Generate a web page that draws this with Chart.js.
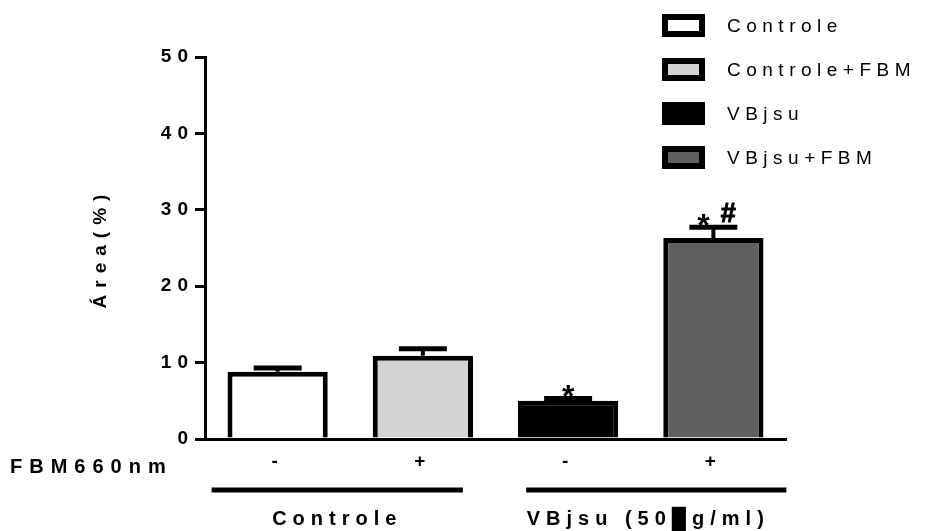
<!DOCTYPE html>
<html>
<head>
<meta charset="utf-8">
<script src="https://cdn.jsdelivr.net/npm/chart.js@4.4.1/dist/chart.umd.min.js"></script>
<style>
  html, body { margin: 0; padding: 0; background: #fff; }
  canvas { display: block; }
</style>
</head>
<body>
<canvas id="grafico" width="925" height="531"></canvas>
<script>
// dados
const categorias = ['Controle', 'Controle+FBM', 'VBjsu', 'VBjsu+FBM'];
const medias = [8.8, 10.9, 5.0, 26.3];
const erros = [0.5, 0.9, 0.3, 1.4];
const sinaisFBM = ['-', '+', '-', '+'];
const asteriscos = ['', '', '*', '*'];
const cerquilhas = ['', '', '', '#'];
const grupos = ['Controle', 'VBjsu (50\u2588g/ml)'];
const gruposInicio = [0, 2];
const gruposFim = [1, 3];
const cores = ['#ffffff', '#d3d3d3', '#000000', '#606060'];

const FONTE = '"Liberation Sans", Arial, sans-serif';

const espacamento = {
    id: 'espacamento',
    beforeDraw(chart) {
        chart.ctx.letterSpacing = '6px';
    }
};

const barrasErro = {
    id: 'barrasErro',
    afterDatasetsDraw(chart) {
        const ctx = chart.ctx;
        const y = chart.scales.y;
        const meta = chart.getDatasetMeta(0);
        ctx.save();
        ctx.strokeStyle = '#000';
        ctx.fillStyle = '#000';
        meta.data.forEach((bar, i) => {
            const base = y.getPixelForValue(medias[i]);
            const topo = y.getPixelForValue(medias[i] + erros[i]);
            ctx.lineWidth = 4;
            ctx.beginPath();
            ctx.moveTo(bar.x, base);
            ctx.lineTo(bar.x, topo);
            ctx.stroke();
            ctx.lineWidth = 5;
            ctx.beginPath();
            ctx.moveTo(bar.x - 24, topo);
            ctx.lineTo(bar.x + 24, topo);
            ctx.stroke();

            ctx.letterSpacing = '0px';
            ctx.textAlign = 'center';
            ctx.textBaseline = 'alphabetic';
            if (asteriscos[i]) {
                const dx = cerquilhas[i] ? -10 : 0;
                ctx.font = 'bold 32px ' + FONTE;
                ctx.fillText(asteriscos[i], bar.x + dx, topo - 2 + 32 * 0.33);
            }
            if (cerquilhas[i]) {
                ctx.font = 'bold 27px ' + FONTE;
                ctx.lineWidth = 1;
                ctx.fillText(cerquilhas[i], bar.x + 15, topo - 5);
                ctx.strokeText(cerquilhas[i], bar.x + 15, topo - 5);
            }
        });
        ctx.restore();
    }
};

const anotacoes = {
    id: 'anotacoes',
    afterDraw(chart) {
        const ctx = chart.ctx;
        const x = chart.scales.x;
        ctx.save();
        ctx.fillStyle = '#000';
        ctx.strokeStyle = '#000';

        // legenda
        ctx.font = '19px ' + FONTE;
        ctx.letterSpacing = '5.5px';
        ctx.textAlign = 'left';
        ctx.textBaseline = 'middle';
        categorias.forEach((nome, i) => {
            const yc = 26 + i * 44;
            ctx.fillStyle = '#000';
            ctx.fillRect(662, yc - 12, 43, 23);
            ctx.fillStyle = cores[i];
            ctx.fillRect(668, yc - 6, 31, 11);
            ctx.fillStyle = '#000';
            ctx.fillText(nome, 727, yc + 1);
        });

        // titulo do eixo y
        ctx.save();
        ctx.translate(101, 251);
        ctx.rotate(-Math.PI / 2);
        ctx.font = 'bold 19px ' + FONTE;
        ctx.letterSpacing = '7px';
        ctx.textAlign = 'center';
        ctx.fillText('\u00c1rea(%)', 3, 0);
        ctx.restore();

        // FBM 660nm
        ctx.font = 'bold 20px ' + FONTE;
        ctx.letterSpacing = '7px';
        ctx.textAlign = 'left';
        ctx.fillText('FBM660nm', 10, 467);

        // grupos
        const desloc = [[-66, 40], [-42, 73]];
        const ajusteTexto = [0, -8];
        ctx.font = 'bold 20px ' + FONTE;
        ctx.letterSpacing = '6px';
        grupos.forEach((nome, g) => {
            const x0 = x.getPixelForValue(gruposInicio[g]) + desloc[g][0];
            const x1 = x.getPixelForValue(gruposFim[g]) + desloc[g][1];
            ctx.lineWidth = 5;
            ctx.beginPath();
            ctx.moveTo(x0, 490);
            ctx.lineTo(x1, 490);
            ctx.stroke();
            ctx.textAlign = 'center';
            ctx.fillText(nome, (x0 + x1) / 2 + ajusteTexto[g], 519);
        });
        ctx.restore();
    }
};

new Chart(document.getElementById('grafico'), {
    type: 'bar',
    data: {
        labels: categorias,
        datasets: [{
            data: medias,
            backgroundColor: cores,
            borderColor: '#000',
            borderWidth: 5,
            borderSkipped: 'bottom',
            barPercentage: 0.69,
            categoryPercentage: 1.0
        }]
    },
    options: {
        responsive: false,
        animation: false,
        devicePixelRatio: 1,
        layout: { padding: { top: 57, right: 139, left: 0, bottom: 0 } },
        plugins: { legend: { display: false }, tooltip: { enabled: false } },
        scales: {
            x: {
                grid: { display: false, drawTicks: false },
                border: { display: true, color: '#000', width: 3 },
                afterFit(scale) { scale.height = 92; },
                ticks: {
                    color: '#000',
                    font: { family: FONTE, size: 19, weight: 'bold' },
                    padding: 11,
                    callback: (v, i) => sinaisFBM[i]
                }
            },
            y: {
                min: 0,
                max: 50,
                afterFit(scale) { scale.width = 205; },
                grid: { drawOnChartArea: false, drawTicks: true, tickLength: 10, color: '#000', lineWidth: 3 },
                border: { display: true, color: '#000', width: 3 },
                ticks: {
                    stepSize: 10,
                    color: '#000',
                    padding: 1,
                    font: { family: FONTE, size: 19, weight: 'bold' }
                }
            }
        }
    },
    plugins: [espacamento, barrasErro, anotacoes]
});
</script>
</body>
</html>
